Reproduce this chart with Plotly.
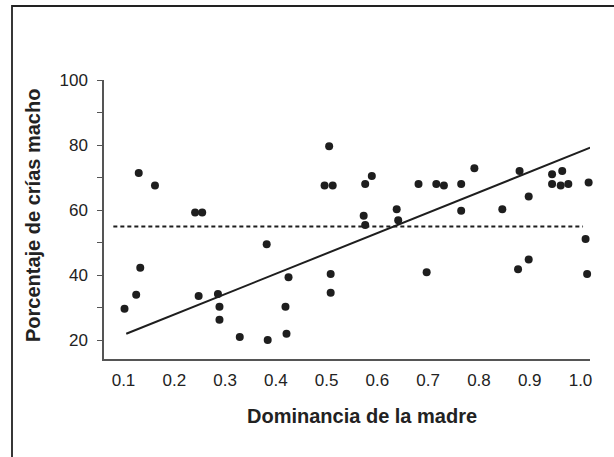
import plotly.graph_objects as go

# Data
dominancia = [0.102, 0.125, 0.130, 0.133, 0.162, 0.241, 0.255, 0.248, 0.286, 0.289,
              0.289, 0.329, 0.382, 0.384, 0.419, 0.421, 0.425, 0.496, 0.512, 0.505,
              0.508, 0.508, 0.573, 0.576, 0.576, 0.589, 0.638, 0.641, 0.681, 0.697,
              0.716, 0.731, 0.765, 0.765, 0.765, 0.791, 0.846, 0.877, 0.880, 0.898,
              0.898, 0.944, 0.944, 0.964, 0.961, 0.976, 1.010, 1.025, 1.013, 1.016]
porcentaje = [29.7, 34.0, 71.4, 42.3, 67.6, 59.3, 59.3, 33.6, 34.2, 30.3,
              26.3, 21.0, 49.5, 20.1, 30.3, 22.0, 39.4, 67.6, 67.6, 79.6,
              40.4, 34.6, 58.3, 68.0, 55.4, 70.5, 60.3, 56.9, 68.0, 40.9,
              68.0, 67.6, 101.0, 68.0, 59.8, 72.9, 60.3, 41.8, 72.0, 64.2,
              44.8, 71.0, 68.0, 72.0, 67.6, 68.0, 51.1, 50.6, 40.4, 68.5]

reg_x = [0.1054, 1.019]
reg_y = [22.0, 79.2]

ref_x = [0.08, 1.005]
ref_y = [55.0, 55.0]

x_ticks = [0.1, 0.2, 0.3, 0.4, 0.5, 0.6, 0.7, 0.8, 0.9, 1.0]
x_labels = ["0.1", "0.2", "0.3", "0.4", "0.5", "0.6", "0.7", "0.8", "0.9", "1.0"]
y_ticks = [20, 30, 40, 50, 60, 70, 80, 90, 100]
y_labels = ["20", "", "40", "", "60", "", "80", "", "100"]

x_title = "Dominancia de la madre"
y_title = "Porcentaje de crías macho"

ink = "#1e1e1e"
axis_col = "#555555"
font_fam = "Liberation Sans, Arial, sans-serif"

fig = go.Figure()
fig.add_trace(go.Scatter(x=ref_x, y=ref_y, mode="lines",
                         line=dict(color=ink, width=2, dash="4px,3px"),
                         cliponaxis=False, showlegend=False, hoverinfo="skip"))
fig.add_trace(go.Scatter(x=reg_x, y=reg_y, mode="lines",
                         line=dict(color=ink, width=2),
                         cliponaxis=False, showlegend=False, hoverinfo="skip"))
fig.add_trace(go.Scatter(x=dominancia, y=porcentaje, mode="markers",
                         marker=dict(color=ink, size=8, line=dict(width=0)),
                         cliponaxis=False, showlegend=False))

fig.update_layout(
    width=614, height=457,
    margin=dict(l=104, r=24, t=80, b=98),
    paper_bgcolor="white", plot_bgcolor="white",
    font=dict(family=font_fam, color="#222222", size=17),
    xaxis=dict(range=[0.0616, 1.0187], showgrid=False, zeroline=False,
               showline=True, linecolor=axis_col, linewidth=1.5,
               tickvals=x_ticks, ticktext=x_labels, ticks="",
               ticklabelstandoff=5, tickfont=dict(size=17)),
    yaxis=dict(range=[14.25, 100], showgrid=False, zeroline=False,
               showline=True, linecolor=axis_col, linewidth=1.5,
               tickvals=y_ticks, ticktext=y_labels, ticks="outside",
               ticklen=5, tickwidth=1.2, tickcolor=axis_col,
               ticklabelstandoff=6, tickfont=dict(size=17)),
    shapes=[dict(type="rect", xref="paper", yref="paper",
                 x0=-0.1893, x1=1.3, y0=-0.6, y1=1.2652,
                 line=dict(color="#222222", width=1.8), fillcolor="rgba(0,0,0,0)",
                 layer="below")],
    annotations=[
        dict(text=x_title, xref="paper", yref="paper", x=0.531, y=-0.204,
             xanchor="center", yanchor="middle", showarrow=False,
             font=dict(size=20, family=font_fam, color="#222222", weight="bold")),
        dict(text=y_title, xref="paper", yref="paper", x=-0.146, y=0.5125,
             xanchor="center", yanchor="middle", textangle=-90, showarrow=False,
             font=dict(size=20, family=font_fam, color="#222222", weight="bold")),
    ],
)

fig.write_html("out.html")
